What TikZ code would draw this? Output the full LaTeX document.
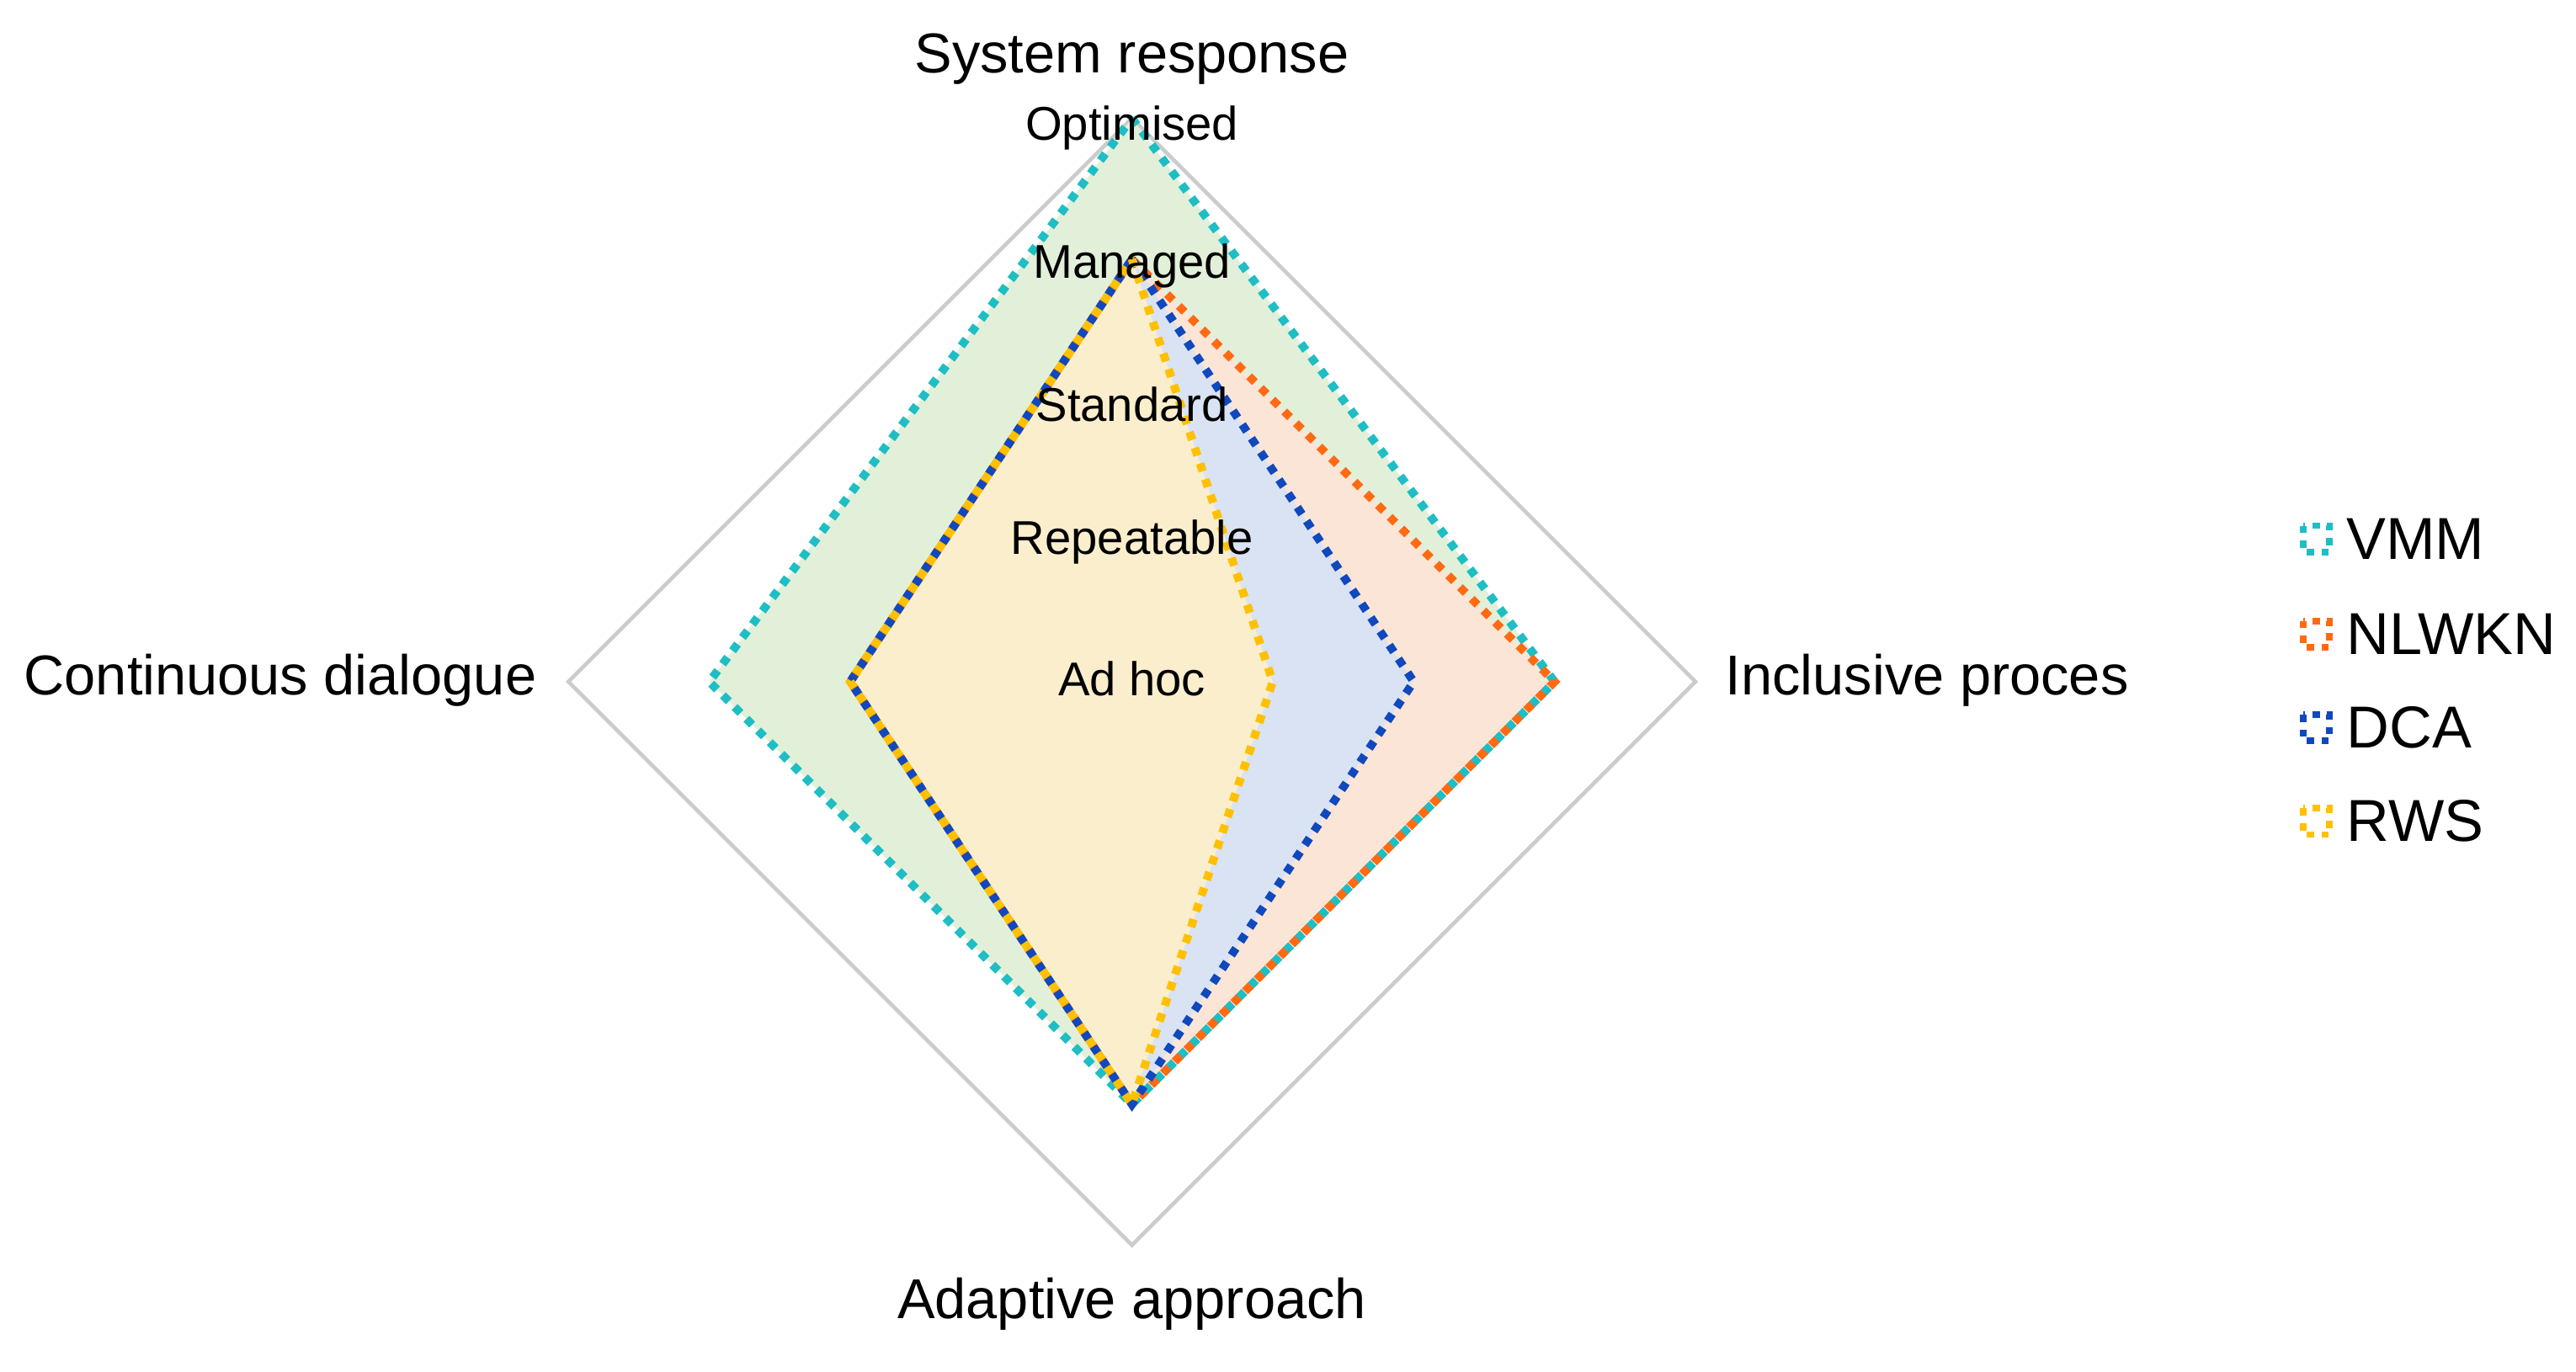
\documentclass[tikz,border=0pt]{standalone}
\usepackage{fontspec}
\setmainfont{Liberation Sans}
\begin{document}
\begin{tikzpicture}[x=0.01952cm,y=-0.01952cm,
  ser/.style={line width=2.8pt,dash pattern=on 2.8pt off 2.8pt},
  ax/.style={font=\fontsize{19}{23}\selectfont},
  lvl/.style={font=\fontsize{16}{19}\selectfont},
  leg/.style={font=\fontsize{20}{24}\selectfont,anchor=west}]
\definecolor{cV}{RGB}{30,190,196}
\definecolor{cN}{RGB}{255,106,19}
\definecolor{cD}{RGB}{16,72,190}
\definecolor{cR}{RGB}{255,192,0}
\definecolor{fV}{RGB}{226,240,217}
\definecolor{fN}{RGB}{251,229,214}
\definecolor{fD}{RGB}{218,227,243}
\definecolor{fR}{RGB}{250,238,205}
\useasboundingbox (0,0) rectangle (1568,835);
\def\s{85.75}
\coordinate (C) at (689,415);
\draw[gray!40,line width=1.3pt] (689,415-4*\s) -- (689+4*\s,415) -- (689,415+4*\s) -- (689-4*\s,415) -- cycle;
\newcommand{\poly}[5]{%
 \filldraw[fill=#5,draw=none] (689,415-#1*\s) -- (689+#2*\s,415) -- (689,415+#3*\s) -- (689-#4*\s,415) -- cycle;}
\newcommand{\edge}[5]{%
 \draw[ser,#5] (689,415-#1*\s) -- (689+#2*\s,415) -- (689,415+#3*\s) -- (689-#4*\s,415) -- cycle;}
\poly{4}{3}{3}{3}{fV}
\poly{3}{3}{3}{2}{fN}
\poly{3}{2}{3}{2}{fD}
\poly{3}{1}{3}{2}{fR}
\edge{4}{3}{3}{3}{cV}
\edge{3}{3}{3}{2}{cN}
\edge{3}{2}{3}{2}{cD}
\edge{3}{1}{3}{2}{cR}
\node[lvl] (l0) at (689,413) {Ad hoc};
\node[lvl] (l1) at (689,330) {Repeatable};
\node[lvl] (l2) at (689,246) {Standard};
\node[lvl] (l3) at (689,162) {Managed};
\node[lvl] (l4) at (689,78) {Optimised};
\node[ax] (t) at (689,36) {System response};
\node[ax] (b) at (689,794) {Adaptive approach};
\node[ax,anchor=east] (l) at (333,414) {Continuous dialogue};
\node[ax,anchor=west] (r) at (1044,414) {Inclusive proces};
\foreach \n/\c/\y in {VMM/cV/328,NLWKN/cN/386,DCA/cD/443,RWS/cR/500}{
  \draw[\c,line width=2.2pt,dash pattern=on 2.5pt off 2.5pt] (1402,\y-8) rectangle (1418,\y+8);
  \node[leg] (k\n) at (1422,\y) {\n};}
\end{tikzpicture}
\end{document}
